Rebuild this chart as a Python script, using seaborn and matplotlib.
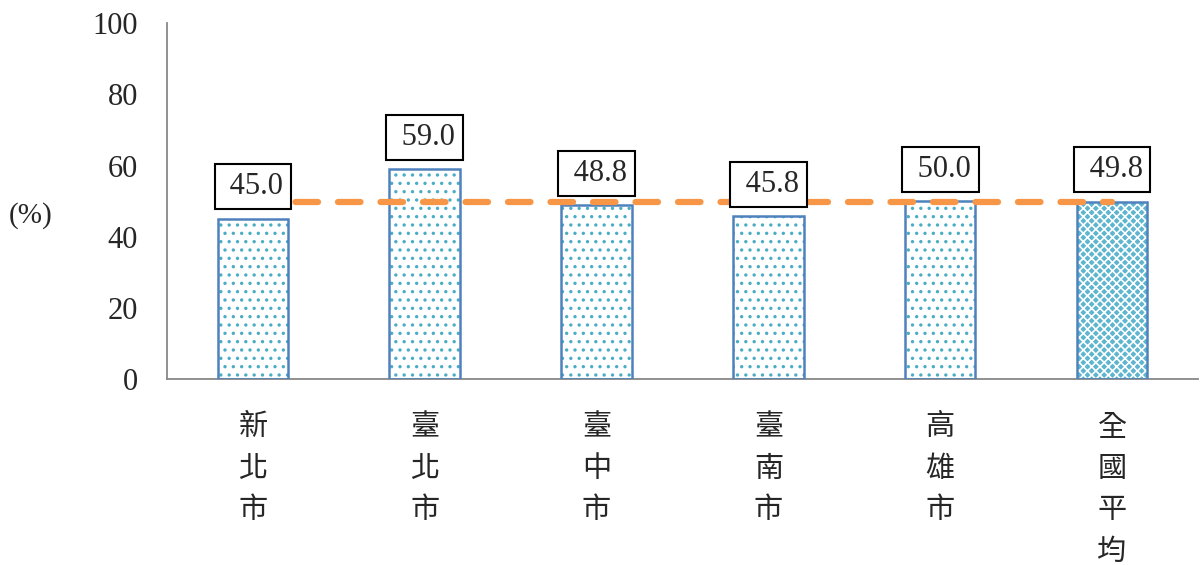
import matplotlib
matplotlib.use('Agg')
import matplotlib.pyplot as plt
import seaborn as sns
import pandas as pd

# data
cities = ['新北市', '臺北市', '臺中市', '臺南市', '高雄市', '全國平均']
values = [45.0, 59.0, 48.8, 45.8, 50.0, 49.8]
national_avg = 49.8
y_ticks = [0, 20, 40, 60, 80, 100]

sns.set_style('white')
plt.rcParams['font.family'] = ['Liberation Serif', 'Noto Sans CJK TC', 'DejaVu Sans']
plt.rcParams['hatch.linewidth'] = 1.2

df = pd.DataFrame({'city': cities, 'value': values})

fig = plt.figure(figsize=(12.03, 5.65), dpi=100)
ax = fig.add_axes([0.1388, 0.329, 0.857, 0.630])

# fill with hatch first, then outline on top
sns.barplot(data=df, x='city', y='value', width=0.41, color='white',
            ax=ax, zorder=2)
for i, p in enumerate(ax.patches):
    p.set_linewidth(0)
    if i == len(cities) - 1:
        # national average: denser blue pattern
        p.set_facecolor('#5db5cf')
        p.set_edgecolor('white')
        p.set_hatch('xxxx')
    else:
        p.set_edgecolor('#4bacc6')
        p.set_hatch('..')
    ax.add_patch(plt.Rectangle(p.get_xy(), p.get_width(), p.get_height(),
                               fill=False, edgecolor='#4f81bd', lw=1.8, zorder=3))

# national average dashed line
ax.plot(cities, [national_avg] * len(cities), color='#f79646', lw=4.5,
        dashes=(3.6, 3.2), dash_capstyle='round', zorder=4)

# value labels in boxes
for i, v in enumerate(values):
    ax.annotate(f' {v:.1f}', xy=(i, v), xytext=(0, 32), textcoords='offset pixels',
                ha='center', va='center', fontsize=22, zorder=5,
                bbox=dict(boxstyle='square,pad=0.26', fc='white', ec='black', lw=1.5))

ax.set_ylim(0, 100)
ax.set_xlim(-0.5, len(cities) - 0.5)
ax.set_yticks(y_ticks)
ax.set_yticklabels([str(t) for t in y_ticks], fontsize=22)
ax.set_xticks(range(len(cities)))
ax.set_xticklabels(['\n'.join(c) for c in cities], fontsize=21,
                   family=['Noto Sans CJK TC'], fontweight='light',
                   linespacing=1.5, va='top')
ax.set_xticks([i - 0.5 for i in range(len(cities) + 1)], minor=True)
ax.tick_params(axis='x', which='major', length=0, pad=24)
ax.tick_params(axis='x', which='minor', length=7, color='#888888', width=1.3, direction='in')
ax.tick_params(axis='y', length=7, color='#888888', width=1.3, direction='out', pad=14)
ax.set_xlabel('')
ax.set_ylabel('(%)', fontsize=21, rotation=0, va='center', labelpad=0)
ax.yaxis.set_label_coords(-0.132, 0.46)

for s in ['top', 'right']:
    ax.spines[s].set_visible(False)
for s in ['left', 'bottom']:
    ax.spines[s].set_color('#888888')
    ax.spines[s].set_linewidth(1.3)

fig.savefig('out.png', dpi=100)
